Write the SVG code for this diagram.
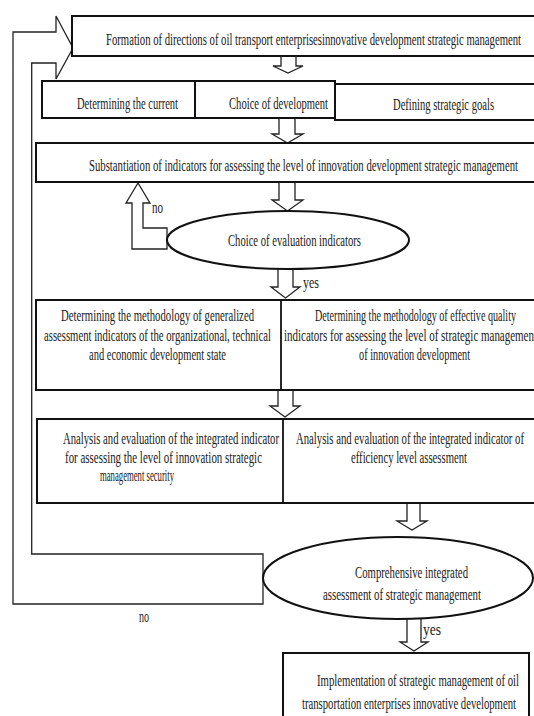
<svg xmlns="http://www.w3.org/2000/svg" width="534" height="716" viewBox="0 0 534 716">
<style>
.box{fill:#fff;stroke:#111;stroke-width:2}
.div{stroke:#111;stroke-width:1.8;fill:none}
.ell{fill:#fff;stroke:#111;stroke-width:2}
.arr{fill:#fff;stroke:#222;stroke-width:1.3;stroke-linejoin:miter}
.t{font-family:"Liberation Serif","Times New Roman",serif;font-size:16px;fill:#1a1a1a}
</style>
<rect width="534" height="716" fill="#fff"/>
<g id="connectors">
<path class="arr" d="M263,554 L31.7,554 L31.7,63 L56,63 L56,79 L73,48 L56,16 L56,32 L13,32 L13,604 L263,604 Z"/>
<path class="arr" d="M281,56 L281,66 L273,66 L288,73 L303,66 L296,66 L296,56"/>
<path class="arr" d="M279,118 L279,134 L272,134 L287.5,143 L303,134 L295,134 L295,118"/>
<path class="arr" d="M279,182 L279,200 L272,200 L287.5,211 L303,200 L295,200 L295,182"/>
<path class="arr" d="M167,249 L132,249 L132,203 L126,203 L138,183 L150,203 L143,203 L143,228 L167,228 Z"/>
<path class="arr" d="M278,269 L278,287 L271,287 L285.5,298 L300,287 L293,287 L293,269"/>
<path class="arr" d="M278,390 L278,406 L270,406 L285,417 L300,406 L293,406 L293,390"/>
<path class="arr" d="M407,503 L407,521 L397,521 L412,530 L427,521 L420,521 L420,503"/>
<path class="arr" d="M407,618 L407,642 L400,642 L414,651 L428,642 L421,642 L421,618"/>
</g>
<g id="n1"><rect class="box" x="72" y="16" width="470" height="40"/>
<text class="t" x="106" y="45" textLength="415" lengthAdjust="spacingAndGlyphs">Formation of directions of oil transport enterprisesinnovative development strategic management</text></g>
<g id="n2a"><rect class="box" x="42" y="81" width="153" height="37"/>
<text class="t" x="77" y="109" textLength="101" lengthAdjust="spacingAndGlyphs">Determining the current</text></g>
<g id="n2b"><rect class="box" x="195" y="81" width="140" height="37"/>
<text class="t" x="229" y="109" textLength="99" lengthAdjust="spacingAndGlyphs">Choice of development</text></g>
<g id="n2c"><rect class="box" x="335" y="84" width="210" height="36"/>
<text class="t" x="393" y="110" textLength="101" lengthAdjust="spacingAndGlyphs">Defining strategic goals</text></g>
<g id="n3"><rect class="box" x="36" y="143" width="510" height="39"/>
<text class="t" x="89" y="171" textLength="429" lengthAdjust="spacingAndGlyphs">Substantiation of indicators for assessing the level of innovation development strategic management</text></g>
<g id="n4"><ellipse class="ell" cx="288" cy="240" rx="121" ry="29"/>
<text class="t" x="228" y="246" textLength="133" lengthAdjust="spacingAndGlyphs">Choice of evaluation indicators</text></g>
<g id="n5"><rect class="box" x="36" y="300" width="510" height="90"/>
<line class="div" x1="281" y1="300" x2="281" y2="390"/>
<text class="t" x="61" y="321" textLength="193" lengthAdjust="spacingAndGlyphs">Determining the methodology of generalized</text>
<text class="t" x="44" y="341" textLength="227" lengthAdjust="spacingAndGlyphs">assessment indicators of the organizational, technical</text>
<text class="t" x="89" y="360" textLength="137" lengthAdjust="spacingAndGlyphs">and economic development state</text>
<text class="t" x="315" y="321" textLength="201" lengthAdjust="spacingAndGlyphs">Determining the methodology of effective quality</text>
<text class="t" x="284" y="341" textLength="253" lengthAdjust="spacingAndGlyphs">indicators for assessing the level of strategic management</text>
<text class="t" x="359" y="360" textLength="111" lengthAdjust="spacingAndGlyphs">of innovation development</text></g>
<g id="n6"><rect class="box" x="37" y="419" width="510" height="84"/>
<line class="div" x1="283" y1="419" x2="283" y2="503"/>
<text class="t" x="63" y="444" textLength="216" lengthAdjust="spacingAndGlyphs">Analysis and evaluation of the integrated indicator</text>
<text class="t" x="65" y="463" textLength="197" lengthAdjust="spacingAndGlyphs">for assessing the level  of innovation strategic</text>
<text class="t" x="100" y="481" textLength="74" lengthAdjust="spacingAndGlyphs">management security</text>
<text class="t" x="296" y="444" textLength="228" lengthAdjust="spacingAndGlyphs">Analysis and evaluation of the integrated indicator of</text>
<text class="t" x="351" y="463" textLength="116" lengthAdjust="spacingAndGlyphs">efficiency level assessment</text></g>
<g id="n7"><ellipse class="ell" cx="398" cy="578" rx="135" ry="41"/>
<text class="t" x="355" y="578" textLength="113" lengthAdjust="spacingAndGlyphs">Comprehensive integrated</text>
<text class="t" x="323" y="600" textLength="158" lengthAdjust="spacingAndGlyphs">assessment  of strategic management</text></g>
<g id="n8"><rect class="box" x="283" y="653" width="246" height="80"/>
<text class="t" x="317" y="686" textLength="202" lengthAdjust="spacingAndGlyphs">Implementation of strategic management  of oil</text>
<text class="t" x="302" y="709" textLength="214" lengthAdjust="spacingAndGlyphs">transportation enterprises  innovative development</text></g>
<g id="labels">
<text class="t" x="152" y="213" textLength="11" lengthAdjust="spacingAndGlyphs">no</text>
<text class="t" x="303" y="288" textLength="16" lengthAdjust="spacingAndGlyphs">yes</text>
<text class="t" x="139" y="622" textLength="10" lengthAdjust="spacingAndGlyphs">no</text>
<text class="t" x="423" y="635" textLength="18" lengthAdjust="spacingAndGlyphs">yes</text>
</g>
</svg>
